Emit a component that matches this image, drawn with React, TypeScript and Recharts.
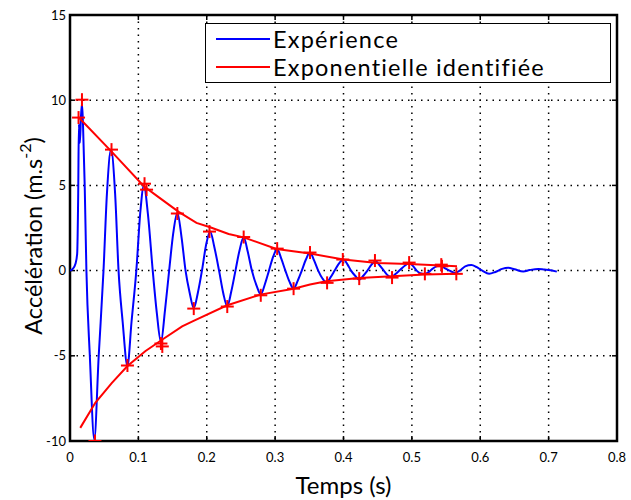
import React from 'react'
import {
  ComposedChart, Line, Scatter, XAxis, YAxis, CartesianGrid, ReferenceLine, ReferenceArea, Label,
} from 'recharts'

// measured signal (s, m.s-2)
const expTime = [
  0, 0.004, 0.008, 0.0105, 0.012, 0.013, 0.0145, 0.016, 0.0175, 0.019, 0.0215, 0.024, 0.029, 0.0355, 0.042, 0.049,
  0.054, 0.06, 0.066, 0.071, 0.077, 0.084, 0.09, 0.097, 0.103, 0.108, 0.114, 0.121, 0.127, 0.133, 0.139, 0.145,
  0.151, 0.157, 0.163, 0.169, 0.175, 0.181, 0.187, 0.193, 0.199, 0.205, 0.211, 0.218, 0.224, 0.23, 0.236, 0.242,
  0.248, 0.254, 0.26, 0.266, 0.273, 0.279, 0.285, 0.291, 0.297, 0.303, 0.309, 0.315, 0.321, 0.327, 0.333, 0.339,
  0.345, 0.351, 0.357, 0.363, 0.369, 0.375, 0.381, 0.387, 0.393, 0.4, 0.406, 0.411, 0.417, 0.423, 0.429, 0.435,
  0.441, 0.447, 0.453, 0.459, 0.464, 0.47, 0.476, 0.483, 0.49, 0.496, 0.502, 0.507, 0.512, 0.518, 0.524, 0.53,
  0.536, 0.542, 0.548, 0.555, 0.563, 0.57, 0.578, 0.587, 0.595, 0.603, 0.613, 0.622, 0.632, 0.641, 0.65, 0.663,
  0.672, 0.685, 0.694, 0.7, 0.712,
]
const expValue = [
  0, 0.1, 0.4, 1.0, 4.5, 8.6, 7.5, 9.0, 9.8, 8.6, 5.0, 0, -5.0, -9.9, -5.0, 0,
  4.5, 7.1, 4.5, 0, -3.0, -5.6, -3.0, 0, 3.5, 5.0, 3.3, 0, -2.5, -4.2, -2.3, 0,
  2.2, 3.4, 2.0, 0, -1.3, -2.2, -1.3, 0, 1.5, 2.3, 1.4, 0, -1.3, -2.1, -1.2, 0,
  1.2, 1.95, 1.1, 0, -0.9, -1.4, -0.8, 0, 0.8, 1.27, 0.7, 0, -0.65, -1.06, -0.6, 0,
  0.65, 1.07, 0.6, 0, -0.45, -0.7, -0.4, 0, 0.4, 0.65, 0.35, 0, -0.3, -0.53, -0.3, 0,
  0.35, 0.55, 0.3, 0, -0.25, -0.39, -0.2, 0.05, 0.3, 0.45, 0.25, 0, -0.15, -0.2, -0.1, 0.1,
  0.25, 0.3, 0.15, 0, -0.14, 0, 0.25, 0.33, 0.2, 0, -0.18, -0.08, 0.1, 0.16, 0.08, -0.05,
  0.03, 0.1, 0.06, 0.04, -0.06,
]

// identified exponential envelopes
const upperTime = [0.0125, 0.0605, 0.108, 0.13, 0.159, 0.185, 0.205, 0.232, 0.254, 0.302, 0.351, 0.4, 0.449, 0.496, 0.566]
const upperValue = [9.0, 7.0, 4.95, 4.3, 3.45, 2.8, 2.54, 2.15, 1.95, 1.27, 1.0, 0.65, 0.45, 0.39, 0.25]
const lowerTime = [0.015, 0.037, 0.061, 0.084, 0.11, 0.133, 0.164, 0.18, 0.229, 0.278, 0.327, 0.351, 0.375, 0.423, 0.471, 0.519, 0.566]
const lowerValue = [-9.23, -7.76, -6.6, -5.6, -4.73, -4.1, -3.27, -2.97, -2.05, -1.41, -1.07, -0.82, -0.63, -0.43, -0.33, -0.23, -0.19]

// picked extrema (+ markers)
const peakTime = [
  0.0125, 0.0175, 0.0607, 0.109, 0.112, 0.157, 0.204, 0.254, 0.303, 0.351, 0.399, 0.446, 0.496, 0.543, 0.544,
  0.0365, 0.084, 0.133, 0.135, 0.181, 0.23, 0.279, 0.327, 0.376, 0.423, 0.471, 0.519, 0.565,
]
const peakValue = [
  8.98, 10.03, 7.1, 5.1, 4.75, 3.35, 2.29, 1.97, 1.29, 1.06, 0.65, 0.59, 0.47, 0.35, 0.25,
  -10.0, -5.57, -4.28, -4.45, -2.23, -2.11, -1.45, -1.06, -0.72, -0.47, -0.41, -0.19, -0.19,
]

const xTicks = [0, 0.1, 0.2, 0.3, 0.4, 0.5, 0.6, 0.7, 0.8]
const yTicks = [-10, -5, 0, 5, 10, 15]
const seriesNames = ['Expérience', 'Exponentielle identifiée']
const seriesColors = ['#0000ff', '#ff0000']

const expData = expTime.map((t, i) => ({ t, v: expValue[i] }))
const upperData = upperTime.map((t, i) => ({ t, v: upperValue[i] }))
const lowerData = lowerTime.map((t, i) => ({ t, v: lowerValue[i] }))
const peakData = peakTime.map((t, i) => ({ t, v: peakValue[i] }))

const FONT = 'Lato, "Open Sans", sans-serif'

function Plus(props: any) {
  const { cx, cy } = props
  if (cx == null || cy == null) return null
  return (
    <g stroke="#ff0000" strokeWidth={2}>
      <line x1={cx - 6.5} y1={cy} x2={cx + 6.5} y2={cy} />
      <line x1={cx} y1={cy - 6.5} x2={cx} y2={cy + 6.5} />
    </g>
  )
}

// legend drawn over the chart so it does not eat plot space
function LegendBox() {
  return (
    <div style={{ position: 'absolute', left: 205, top: 23, width: 406, height: 60, boxSizing: 'border-box', border: '1.5px solid #000', background: '#fff', fontFamily: FONT }}>
      {seriesNames.map((n, i) => (
        <div key={n} style={{ position: 'absolute', left: 10, top: 0.5 + i * 28, height: 28, display: 'flex', alignItems: 'center' }}>
          <svg width={54} height={4} style={{ display: 'block' }}>
            <line x1={0} y1={2} x2={54} y2={2} stroke={seriesColors[i]} strokeWidth={2} />
          </svg>
          <span style={{ fontSize: 23.5, letterSpacing: 1.2, marginLeft: 3, color: '#000', lineHeight: '28px', whiteSpace: 'nowrap' }}>{n}</span>
        </div>
      ))}
    </div>
  )
}

function YTitle(props: any) {
  const vb = props.viewBox || {}
  const x = 33
  const y = (vb.y ?? 15) + (vb.height ?? 426) / 2 + 8
  return (
    <text x={x} y={y} transform={`rotate(-90 ${x} ${y})`} textAnchor="middle" dominantBaseline="central" fontFamily={FONT} fontSize={23.5} fill="#000">
      Accélération (m.s<tspan dy={-9} fontSize={16}>-2</tspan><tspan dy={9}>)</tspan>
    </text>
  )
}

function XTitle(props: any) {
  const vb = props.viewBox || {}
  const x = (vb.x ?? 70) + (vb.width ?? 547) / 2
  return (
    <text x={x} y={494} textAnchor="middle" fontFamily={FONT} fontSize={24} fill="#000">Temps (s)</text>
  )
}

export default function App() {
  const tickStyle = { fill: '#000', fontSize: 13, fontFamily: FONT }
  const dx = 0.0073
  const dy = 0.29
  return (
    <div style={{ position: 'absolute', left: 0, top: 0, width: 631, height: 500, background: '#fff' }}>
      <ComposedChart width={631} height={500} margin={{ top: 15, right: 14, bottom: 29, left: 30 }}>
        <CartesianGrid stroke="#000" strokeWidth={1.5} strokeDasharray="1.5 5" />
        <XAxis dataKey="t" type="number" domain={[0, 0.8]} ticks={xTicks} height={30} allowDataOverflow
          axisLine={false} tickLine={false} tickSize={0} tickMargin={12} tick={tickStyle} interval={0}>
          <Label content={<XTitle />} />
        </XAxis>
        <YAxis type="number" domain={[-10, 15]} ticks={yTicks} width={40} allowDataOverflow
          axisLine={false} tickLine={false} tickSize={0} tickMargin={4} tick={tickStyle} interval={0}>
          <Label content={<YTitle />} />
        </YAxis>
        {xTicks.map(t => (
          <ReferenceLine key={'xb' + t} segment={[{ x: t, y: -10 }, { x: t, y: -10 + dy }]} stroke="#000" strokeWidth={1.5} />
        ))}
        {xTicks.map(t => (
          <ReferenceLine key={'xt' + t} segment={[{ x: t, y: 15 }, { x: t, y: 15 - dy }]} stroke="#000" strokeWidth={1.5} />
        ))}
        {yTicks.map(v => (
          <ReferenceLine key={'yl' + v} segment={[{ x: 0, y: v }, { x: dx, y: v }]} stroke="#000" strokeWidth={1.5} />
        ))}
        {yTicks.map(v => (
          <ReferenceLine key={'yr' + v} segment={[{ x: 0.8, y: v }, { x: 0.8 - dx, y: v }]} stroke="#000" strokeWidth={1.5} />
        ))}
        <Line data={expData} dataKey="v" name={seriesNames[0]} type="monotone" stroke={seriesColors[0]} strokeWidth={2}
          dot={false} activeDot={false} isAnimationActive={false} />
        <Line data={upperData} dataKey="v" name={seriesNames[1]} type="linear" stroke={seriesColors[1]} strokeWidth={2}
          dot={false} activeDot={false} isAnimationActive={false} />
        <Line data={lowerData} dataKey="v" name="lower" type="linear" stroke={seriesColors[1]} strokeWidth={2}
          dot={false} activeDot={false} isAnimationActive={false} legendType="none" />
        <Scatter data={peakData} dataKey="v" shape={<Plus />} isAnimationActive={false} legendType="none" />
        <ReferenceArea x1={0} x2={0.8} y1={-10} y2={15} fill="none" stroke="#000" strokeWidth={2.5} ifOverflow="visible" />
      </ComposedChart>
      <LegendBox />
    </div>
  )
}
